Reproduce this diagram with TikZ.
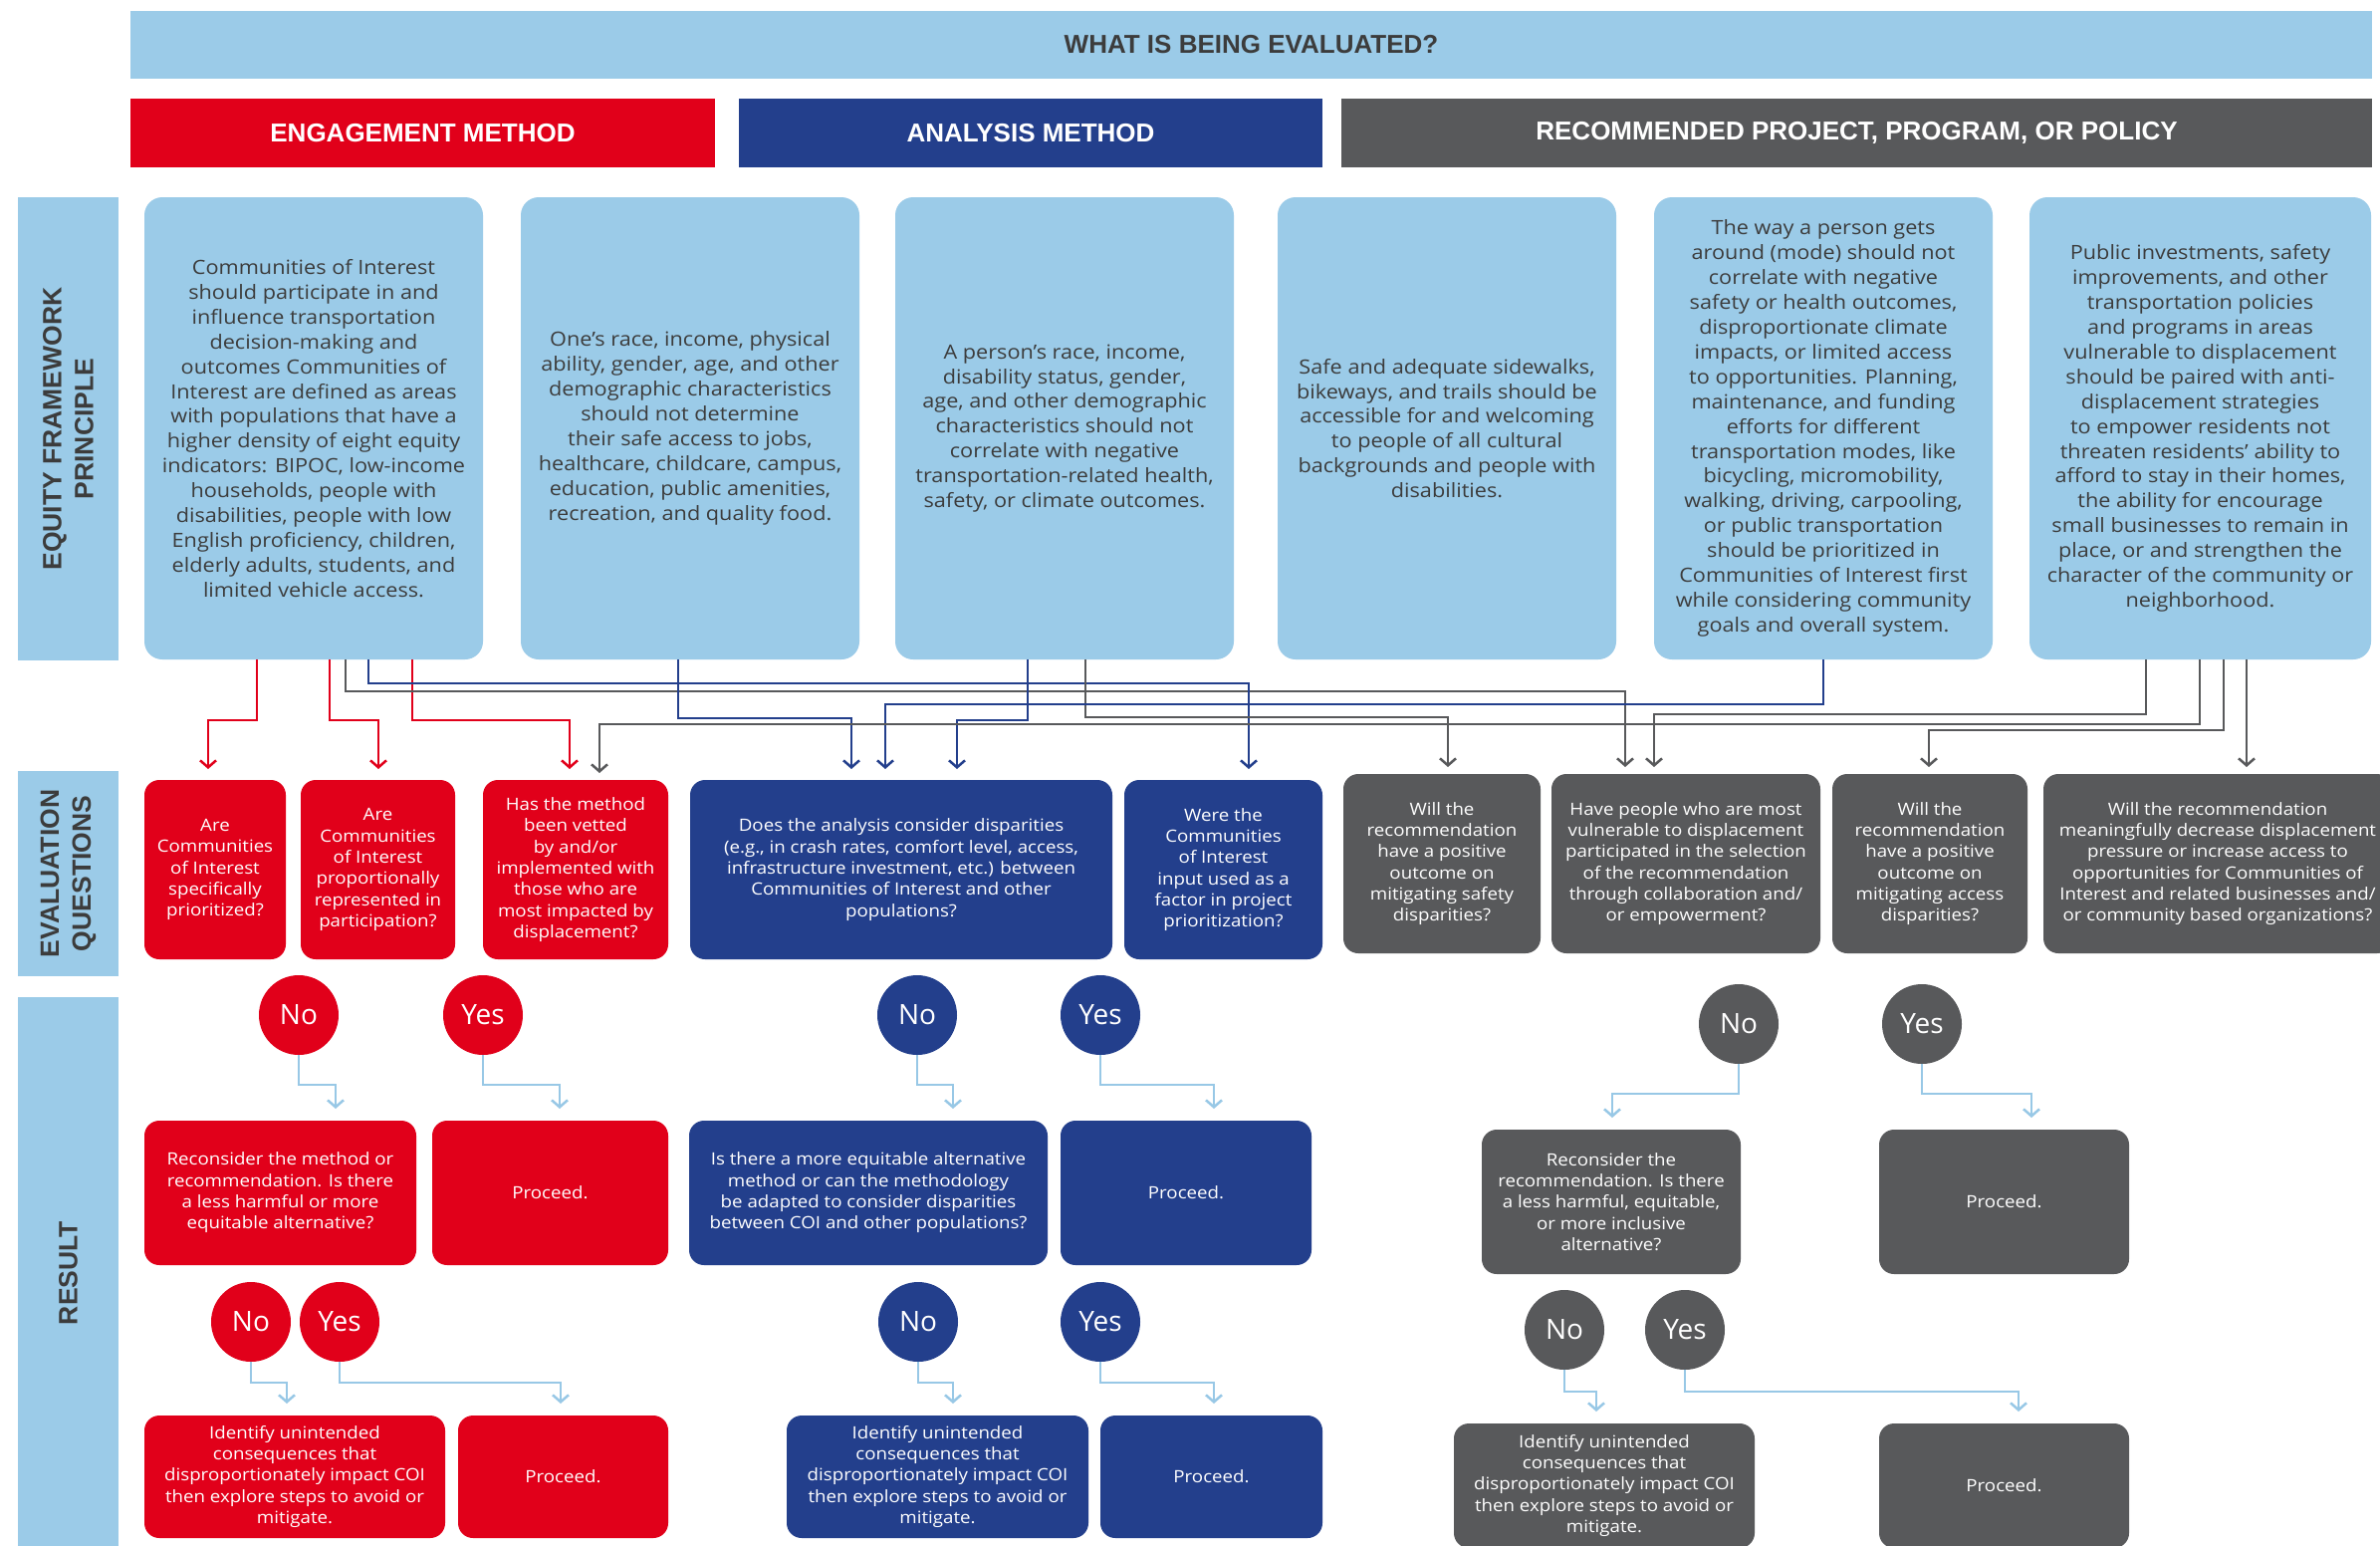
\documentclass[tikz,border=0pt]{standalone}
\usepackage{fontspec}
\setmainfont{Open Sans}[FakeStretch=1.1]
\newfontfamily\hdrfont{Liberation Sans}
\newfontfamily\ynfont{Open Sans}
\usetikzlibrary{arrows.meta,shapes.geometric}
\definecolor{lblue}{HTML}{9BCBE8}
\definecolor{cred}{HTML}{E1001A}
\definecolor{cblue}{HTML}{233F8C}
\definecolor{cgray}{HTML}{58595B}
\definecolor{ctext}{HTML}{3C3C3C}
\definecolor{arrblue}{HTML}{98C8E6}
\begin{document}
\begin{tikzpicture}[x=1pt,y=-1pt,
  every node/.style={inner sep=0pt,outer sep=0pt},
  blk/.style={anchor=north west,align=center,inner sep=0pt},
  hdrbox/.style={blk,font=\hdrfont\bfseries\fontsize{26}{30}\selectfont,text=white,minimum height=69pt},
  sidebox/.style={blk,fill=lblue,minimum width=101pt},
  sidetext/.style={rotate=90,align=center,text=ctext,font=\hdrfont\bfseries\fontsize{26.5}{32}\selectfont},
  prin/.style={blk,fill=lblue,rounded corners=18pt,minimum width=340pt,minimum height=464pt,text=ctext,font=\fontsize{19.7}{24.9}\selectfont},
  qbox/.style={blk,rounded corners=15pt,text=white,font=\fontsize{17}{21.3}\selectfont},
  qred/.style={qbox,fill=cred,minimum height=180pt},
  qblue/.style={qbox,fill=cblue,minimum height=180pt},
  qgray/.style={qbox,fill=cgray,minimum height=180pt},
  yn/.style={circle,minimum size=80pt,text=white,font=\ynfont\fontsize{28}{30}\selectfont},
  arr/.style={-{Straight Barb[length=7pt,width=16pt]}},
  rline/.style={draw=cred,line width=2.5pt,arr,shorten >=11pt},
  bline/.style={draw=cblue,line width=2.5pt,arr,shorten >=11pt},
  gline/.style={draw=cgray,line width=2.5pt,arr,shorten >=7pt},
  larr/.style={draw=arrblue,line width=2.5pt,arr,shorten >=12pt}
]
\useasboundingbox (0,0) rectangle (2390,1551);
\fill[white] (0,0) rectangle (2390,1551);

% headers
\node[hdrbox,fill=lblue,minimum width=2251pt,minimum height=68pt,text=ctext] (top) at (131,11) {WHAT IS BEING EVALUATED?};
\node[hdrbox,fill=cred,minimum width=587pt] (heng) at (131,99) {ENGAGEMENT METHOD};
\node[hdrbox,fill=cblue,minimum width=586pt] (hana) at (742,99) {ANALYSIS METHOD};
\node[hdrbox,fill=cgray,minimum width=1035pt] (hrec) at (1347,99) {RECOMMENDED PROJECT, PROGRAM, OR POLICY};

% side labels
\node[sidebox,minimum height=465pt] (lp) at (18,198) {};
\node[sidetext] (lpt) at (lp.center) {EQUITY FRAMEWORK\\PRINCIPLE};
\node[sidebox,minimum height=206pt] (lq) at (18,774) {};
\node[sidetext] (lqt) at (lq.center) {EVALUATION\\QUESTIONS};
\node[sidebox,minimum height=560pt] (lr) at (18,1001) {};
\node[sidetext] (lrt) at ([yshift=3pt]lr.center) {RESULT};

% principles
\node[prin] (p1) at (145,198) {Communities of Interest\\should participate in and\\influence transportation\\decision-making and\\outcomes Communities of\\Interest are defined as areas\\with populations that have a\\higher density of eight equity\\indicators: BIPOC, low-income\\households, people with\\disabilities, people with low\\English proficiency, children,\\elderly adults, students, and\\limited vehicle access.};
\node[prin] (p2) at (523,198) {One’s race, income, physical\\ability, gender, age, and other\\demographic characteristics\\should not determine\\their safe access to jobs,\\healthcare, childcare, campus,\\education, public amenities,\\recreation, and quality food.};
\node[prin] (p3) at (899,198) {A person’s race, income,\\disability status, gender,\\age, and other demographic\\characteristics should not\\correlate with negative\\transportation-related health,\\safety, or climate outcomes.};
\node[prin] (p4) at (1283,198) {Safe and adequate sidewalks,\\bikeways, and trails should be\\accessible for and welcoming\\to people of all cultural\\backgrounds and people with\\disabilities.};
\node[prin] (p5) at (1661,198) {The way a person gets\\around (mode) should not\\correlate with negative\\safety or health outcomes,\\disproportionate climate\\impacts, or limited access\\to opportunities. Planning,\\maintenance, and funding\\efforts for different\\transportation modes, like\\bicycling, micromobility,\\walking, driving, carpooling,\\or public transportation\\should be prioritized in\\Communities of Interest first\\while considering community\\goals and overall system.};
\node[prin,minimum width=343pt] (p6) at (2038,198) {Public investments, safety\\improvements, and other\\transportation policies\\and programs in areas\\vulnerable to displacement\\should be paired with anti-\\displacement strategies\\to empower residents not\\threaten residents’ ability to\\afford to stay in their homes,\\the ability for encourage\\small businesses to remain in\\place, or and strengthen the\\character of the community or\\neighborhood.};

% questions
\node[qred,minimum width=142pt] (q1) at (145,783) {Are\\Communities\\of Interest\\specifically\\prioritized?};
\node[qred,minimum width=155pt] (q2) at (302,783) {Are\\Communities\\of Interest\\proportionally\\represented in\\participation?};
\node[qred,minimum width=186pt] (q3) at (485,783) {Has the method\\been vetted\\by and/or\\implemented with\\those who are\\most impacted by\\displacement?};
\node[qblue,minimum width=424pt] (q4) at (693,783) {Does the analysis consider disparities\\(e.g., in crash rates, comfort level, access,\\infrastructure investment, etc.) between\\Communities of Interest and other\\populations?};
\node[qblue,minimum width=199pt] (q5) at (1129,783) {Were the\\Communities\\of Interest\\input used as a\\factor in project\\prioritization?};
\node[qgray,minimum width=198pt] (q6) at (1349,777) {Will the\\recommendation\\have a positive\\outcome on\\mitigating safety\\disparities?};
\node[qgray,minimum width=270pt] (q7) at (1558,777) {Have people who are most\\vulnerable to displacement\\participated in the selection\\of the recommendation\\through collaboration and/\\or empowerment?};
\node[qgray,minimum width=196pt] (q8) at (1840,777) {Will the\\recommendation\\have a positive\\outcome on\\mitigating access\\disparities?};
\node[qgray,minimum width=350pt] (q9) at (2052,777) {Will the recommendation\\meaningfully decrease displacement\\pressure or increase access to\\opportunities for Communities of\\Interest and related businesses and/\\or community based organizations?};

% connectors principles -> questions
\draw[rline] (p1.south -| 258,0) |- (209,723) -- (q1.north -| 209,0);
\draw[rline] (p1.south -| 331,0) |- (380,723) -- (q2.north -| 380,0);
\draw[rline] (p1.south -| 414,0) |- (572,723) -- (q3.north -| 572,0);
\draw[gline] (p1.south -| 347,0) |- (1632,694) -- (q7.north -| 1632,0);
\draw[bline] (p1.south -| 370,0) |- (1254,686) -- (q5.north -| 1254,0);
\draw[bline] (p2.south -| 681,0) |- (855,721) -- (q4.north -| 855,0);
\draw[bline] (p3.south -| 1032,0) |- (961,723) -- (q4.north -| 961,0);
\draw[gline] (p3.south -| 1090,0) |- (1454,720) -- (q6.north -| 1454,0);
\draw[bline] (p5.south -| 1831,0) |- (889,707) -- (q4.north -| 889,0);
\draw[gline] (p6.south -| 2155,0) |- (1661,717) -- (q7.north -| 1661,0);
\draw[gline] (p6.south -| 2209,0) |- (602,727) -- (q3.north -| 602,0);
\draw[gline] (p6.south -| 2233,0) |- (1937,733) -- (q8.north -| 1937,0);
\draw[gline] (p6.south -| 2256,0) -- (q9.north -| 2256,0);

% first-level circles
\node[yn,fill=cred] (rn1) at (300,1019) {No};
\node[yn,fill=cred] (ry1) at (485,1019) {Yes};
\node[yn,fill=cblue] (bn1) at (921,1019) {No};
\node[yn,fill=cblue] (by1) at (1105,1019) {Yes};
\node[yn,fill=cgray] (gn1) at (1746,1028) {No};
\node[yn,fill=cgray] (gy1) at (1930,1028) {Yes};

% first-level results
\node[qbox,fill=cred,minimum width=273pt,minimum height=145pt] (r1) at (145,1125) {Reconsider the method or\\recommendation. Is there\\a less harmful or more\\equitable alternative?};
\node[qbox,fill=cred,minimum width=237pt,minimum height=145pt] (r2) at (434,1125) {Proceed.};
\node[qbox,fill=cblue,minimum width=360pt,minimum height=145pt] (r3) at (692,1125) {Is there a more equitable alternative\\method or can the methodology\\be adapted to consider disparities\\between COI and other populations?};
\node[qbox,fill=cblue,minimum width=252pt,minimum height=145pt] (r4) at (1065,1125) {Proceed.};
\node[qbox,fill=cgray,minimum width=260pt,minimum height=145pt] (r5) at (1488,1134) {Reconsider the\\recommendation. Is there\\a less harmful, equitable,\\or more inclusive\\alternative?};
\node[qbox,fill=cgray,minimum width=251pt,minimum height=145pt] (r6) at (1887,1134) {Proceed.};

\draw[larr] (rn1.south) |- (337,1089) -- (r1.north -| 337,0);
\draw[larr] (ry1.south) |- (562,1089) -- (r2.north -| 562,0);
\draw[larr] (bn1.south) |- (957,1089) -- (r3.north -| 957,0);
\draw[larr] (by1.south) |- (1219,1089) -- (r4.north -| 1219,0);
\draw[larr] (gn1.south) |- (1619,1098) -- (r5.north -| 1619,0);
\draw[larr] (gy1.south) |- (2040,1098) -- (r6.north -| 2040,0);

% second-level circles
\node[yn,fill=cred] (rn2) at (252,1327) {No};
\node[yn,fill=cred] (ry2) at (341,1327) {Yes};
\node[yn,fill=cblue] (bn2) at (922,1327) {No};
\node[yn,fill=cblue] (by2) at (1105,1327) {Yes};
\node[yn,fill=cgray] (gn2) at (1571,1335) {No};
\node[yn,fill=cgray] (gy2) at (1692,1335) {Yes};

% second-level results
\node[qbox,fill=cred,minimum width=302pt,minimum height=123pt] (s1) at (145,1421) {Identify unintended\\consequences that\\disproportionately impact COI\\then explore steps to avoid or\\mitigate.};
\node[qbox,fill=cred,minimum width=211pt,minimum height=123pt] (s2) at (460,1421) {Proceed.};
\node[qbox,fill=cblue,minimum width=303pt,minimum height=123pt] (s3) at (790,1421) {Identify unintended\\consequences that\\disproportionately impact COI\\then explore steps to avoid or\\mitigate.};
\node[qbox,fill=cblue,minimum width=223pt,minimum height=123pt] (s4) at (1105,1421) {Proceed.};
\node[qbox,fill=cgray,minimum width=302pt,minimum height=125pt] (s5) at (1460,1429) {Identify unintended\\consequences that\\disproportionately impact COI\\then explore steps to avoid or\\mitigate.};
\node[qbox,fill=cgray,minimum width=251pt,minimum height=125pt] (s6) at (1887,1429) {Proceed.};

\draw[larr] (rn2.south) |- (288,1388) -- (s1.north -| 288,0);
\draw[larr] (ry2.south) |- (563,1388) -- (s2.north -| 563,0);
\draw[larr] (bn2.south) |- (957,1388) -- (s3.north -| 957,0);
\draw[larr] (by2.south) |- (1219,1388) -- (s4.north -| 1219,0);
\draw[larr] (gn2.south) |- (1603,1397) -- (s5.north -| 1603,0);
\draw[larr] (gy2.south) |- (2027,1397) -- (s6.north -| 2027,0);
\end{tikzpicture}
\end{document}
